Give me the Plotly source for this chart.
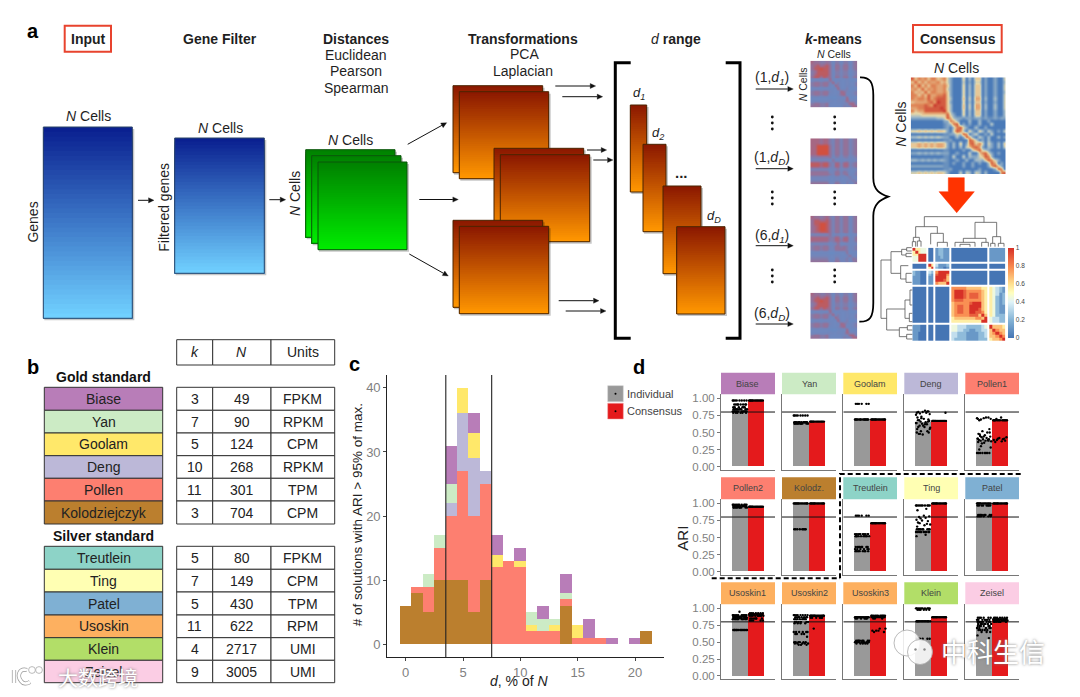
import math
import plotly.graph_objects as go

W, H = 1080, 697
FONT = "Liberation Sans"
INK = "#1f1f1f"

# ---------- panel c data (stacked counts per d bin) ----------
d_bins = list(range(22))
hist_kolodz = [6, 8, 5, 10, 10, 10, 5, 10, 0, 0, 0, 0, 0, 0, 6, 0, 0, 0, 0, 0, 0, 2]
hist_pollen = [0, 1, 4, 5, 10, 17, 15, 15, 12, 13, 12, 2, 2, 2, 1, 1, 1, 1, 0, 0, 0, 0]
hist_deng = [0, 0, 0, 0, 2, 9, 9, 2, 0, 0, 0, 0, 0, 0, 0, 0, 0, 0, 0, 0, 0, 0]
hist_goolam = [0, 0, 0, 0, 0, 4, 4, 0, 2, 0, 1, 1, 0, 1, 0, 2, 0, 0, 0, 0, 0, 0]
hist_yan = [0, 0, 2, 2, 3, 0, 0, 0, 0, 0, 0, 2, 2, 1, 1, 0, 0, 0, 0, 0, 0, 0]
hist_biase = [0, 0, 0, 0, 6, 0, 3, 0, 3, 0, 2, 0, 2, 0, 3, 0, 3, 0, 1, 0, 1, 0]

# ---------- panel b data ----------
gold_names = ["Biase", "Yan", "Goolam", "Deng", "Pollen", "Kolodziejczyk"]
gold_k = ["3", "7", "5", "10", "11", "3"]
gold_n = ["49", "90", "124", "268", "301", "704"]
gold_units = ["FPKM", "RPKM", "CPM", "RPKM", "TPM", "CPM"]
gold_colors = ["#b87db8", "#ccebc5", "#ffe86a", "#bcb8d8", "#fd7f70", "#bb7f2e"]
silver_names = ["Treutlein", "Ting", "Patel", "Usoskin", "Klein", "Zeisel"]
silver_k = ["5", "7", "5", "11", "4", "9"]
silver_n = ["80", "149", "430", "622", "2717", "3005"]
silver_units = ["FPKM", "CPM", "TPM", "RPM", "UMI", "UMI"]
silver_colors = ["#8dd3c7", "#ffffb3", "#7fb0d3", "#fdb060", "#b2de68", "#fbcde4"]

# ---------- panel d data ----------
facet_names = ["Biase", "Yan", "Goolam", "Deng", "Pollen1",
               "Pollen2", "Kolodz.", "Treutlein", "Ting", "Patel",
               "Usoskin1", "Usoskin2", "Usoskin3", "Klein", "Zeisel"]
facet_colors = ["#b87db8", "#ccebc5", "#ffe86a", "#bcb8d8", "#fd7f70",
                "#fd7f70", "#bb7f2e", "#8dd3c7", "#ffffb3", "#7fb0d3",
                "#fdb060", "#fdb060", "#fdb060", "#b2de68", "#fbcde4"]
individual_ari = [0.82, 0.65, 0.69, 0.65, 0.38, 0.95, 1.00, 0.52, 0.60, 0.98, 0.87, 0.80, 0.87, 0.81, 0.72]
consensus_ari = [0.97, 0.66, 0.69, 0.67, 0.68, 0.95, 1.00, 0.71, 1.00, 1.00, 0.92, 0.89, 0.88, 0.87, 0.83]

dots_biase_i = [.97]*8 + [.91]*8 + [.87]*6 + [.84]*10 + [.81]*10 + [.79]*6
dots_biase_c = [.97]*14
dots_yan_i = [.75]*8 + [.65]*14 + [.63]*10
dots_yan_c = [.66]*14
dots_goolam_i = [.92]*6 + [.69]*16
dots_goolam_c = [.69]*16
dots_deng_i = [.80, .79, .81, .78, .77, .80, .82, .76, .81, .73, .79, .72, .70, .68, .67, .66, .65, .64, .66, .63,
               .68, .62, .60, .58, .57, .55, .60, .52, .50, .48, .47, .50, .52, .48, .55, .58, .62, .64, .69, .71]
dots_deng_c = [.67]*14 + [.79]
dots_pollen1_i = [.71, .70, .72, .69, .70, .68, .72, .71, .55, .52, .50, .48, .46, .45, .44, .43, .42, .41, .40, .40,
                  .39, .39, .38, .38, .37, .36, .35, .34, .50, .47, .44, .41, .38, .30, .28, .25, .20, .20, .20, .20,
                  .20, .20, .20, .20]
dots_pollen1_c = [.68]*12 + [.72, .70, .43, .41, .40, .39, .38, .42, .36, .41, .39, .37]
dots_pollen2_i = [.98]*10 + [.96]*12 + [.94]*10
dots_pollen2_c = [.95]*14
dots_kolodz_i = [1.0]*16 + [.62]*8
dots_kolodz_c = [1.0]*16
dots_treutlein_i = [.82]*6 + [.55]*10 + [.52]*10 + [.36]*8 + [.33]*6 + [.30]*8
dots_treutlein_c = [.71]*16
dots_ting_i = [.97]*10 + [.92, .90, .82, .80, .81, .78, .79, .76, .74, .75, .72, .70, .71, .68, .69, .66] + [.62]*10 + [.58]*10 + [.54, .52]
dots_ting_c = [1.0]*16
dots_patel_i = [1.0]*14 + [.97]*8 + [.83]*8 + [.81]*6
dots_patel_c = [1.0]*16
dots_usoskin1_i = [.95] + [.90]*10 + [.88]*12 + [.86]*10 + [.84]*8 + [.68]*14
dots_usoskin1_c = [.93]*7 + [.91]*9 + [.89]*9 + [.85]*6 + [.82]*5
dots_usoskin2_i = [.90]*8 + [.87]*8 + [.84]*8 + [.80]*6 + [.78]*4 + [.65]*6 + [.62]*4 + [.58] + [.50]*6 + [.48]*5 + [.46]*3
dots_usoskin2_c = [.89]*16 + [.86]*6 + [.70]
dots_usoskin3_i = [.87]*16 + [.85]*6 + [.52]*8 + [.50]*8 + [.48]*5
dots_usoskin3_c = [.89]*11 + [.87]*9 + [.85]*3 + [.70]*2 + [.67]*3 + [.65]*2
dots_klein_i = [1.0]*10 + [.98]*6 + [.81]*14 + [.55]*6
dots_klein_c = [.87]*16
dots_zeisel_i = [.86]*6 + [.83]*7 + [.80]*8 + [.77]*7 + [.74]*6 + [.71]*5 + [.68]*5 + [.65]*3 + [.60, .56]
dots_zeisel_c = [.86]*7 + [.84]*9 + [.82]*9 + [.80]*7

facet_dots = [
    (dots_biase_i, dots_biase_c), (dots_yan_i, dots_yan_c), (dots_goolam_i, dots_goolam_c),
    (dots_deng_i, dots_deng_c), (dots_pollen1_i, dots_pollen1_c), (dots_pollen2_i, dots_pollen2_c),
    (dots_kolodz_i, dots_kolodz_c), (dots_treutlein_i, dots_treutlein_c), (dots_ting_i, dots_ting_c),
    (dots_patel_i, dots_patel_c), (dots_usoskin1_i, dots_usoskin1_c), (dots_usoskin2_i, dots_usoskin2_c),
    (dots_usoskin3_i, dots_usoskin3_c), (dots_klein_i, dots_klein_c), (dots_zeisel_i, dots_zeisel_c),
]
jitter = [0.98, 0.62, 1.27, 0.81, 1.41, 0.71, 1.12, 0.57, 1.33, 0.90, 1.20, 0.66, 1.05, 0.76, 1.38,
          0.85, 1.16, 0.60, 1.30, 0.94, 0.69, 1.24, 0.79, 1.09, 1.44, 0.64, 1.01, 0.87, 1.35, 0.74]

# ---------- panel a heatmap data (one digit per cell, 0-9) ----------
kmeans_1 = ["7665565355355356", "6786786366466356", "6889886366466356", "5688886355455245",
            "5788886355455245", "6886876366466356", "3333337333334223", "5665664735334335",
            "5665663375334335", "3333333337335223", "5665664333764345", "5665663334673345",
            "3333332223337223", "3333334334347444", "5665563333344774", "6665563333354477"]
kmeans_2 = ["7776775466466456", "7776775466466456", "7799996466466456", "7799996466466456",
            "7799996466466456", "7799996466466456", "5555556355355345", "4444443633334334",
            "8887885477477456", "8887885477477456", "4444443445344334", "6666664466465335",
            "6666665466456345", "4444443344334534", "4444443344334454", "6666664466435346"]
kmeans_3 = ["7665675466466356", "6887786466466356", "6889986466466356", "6789986466466356",
            "6789986466466356", "6778886466466356", "4444446344334234", "7777775577477346",
            "7777775577577346", "4444443446334334", "5665664466565345", "5665664466665345",
            "3333332233336233", "4444443344334634", "5555553355345365", "6666664466445356"]
consensus_cells = [
    "857675775674200050305502002004", "585757667564200040204402002003", "758575776675200050305502002004",
    "675857676674200050305502002004", "756585776675200050305502002003", "775758667785200050305502002004",
    "767768678885300060406603003004", "566667869885200050305502002004", "777787698885300060406603003004",
    "667788888985300060406603003004", "756688888895300050305502002003", "444555555558420050305502002003",
    "222222223348632212212212112122", "000000000022763000300300200000", "000000000012378020200300040000",
    "000000000012037842003002000000", "556565656652048730520530420204", "000000000011224387024002040000",
    "334343434322003028620420300302", "000000000011200000874020300000", "556565656652030502785740420305",
    "556565656652030304578620320304", "000000000011000020046843200000", "223232323222002000400578420200",
    "000000000011040040322458730000", "332323232321002003003325874200", "000000000011020020020200386020",
    "222222222211000020020000268520", "000000000011200000000200002870", "445454545542000404304303000078"]
clustered_cells = [
    "95544.00.12211.000000000000.11111", "59544.00.12211.000000000000.11111", "55999.00.12211.000000000000.11111",
    "44999.00.11211.000000000000.11111", "44999.00.11111.000000000000.11111", ".................................",
    "00000.95.31112.000000000000.00000", "00000.59.21101.000000000000.00000", ".................................",
    "21100.32.79999.000000000000.00000", "21100.21.89997.000000000000.00000", "11100.11.99996.000000000000.00000",
    "11100.11.99986.000000000000.00000", "11100.11.76669.000000000000.00000", ".................................",
    "00000.00.00000.777776666655.54321", "00000.00.00000.799987777765.54321", "00000.00.00000.799987888765.54312",
    "00000.00.00000.799987888765.54212", "00000.00.00000.788877777765.54212", "00000.00.00000.677777899965.54212",
    "00000.00.00000.678877999965.54211", "00000.00.00000.678877999865.54211", "00000.00.00000.678877998875.54211",
    "00000.00.00000.677777888696.54222", "00000.00.00000.566666667769.43322", "00000.00.00000.555555555599.43322",
    ".................................",
    "11100.00.00000.443332222234.96665", "11100.00.00000.443322112233.69766", "11000.00.00000.332221111223.67976",
    "11000.00.00000.332221111223.66797", "11000.00.00000.322221111222.56679"]
# widths of the 33 cells of the clustered map: blocks of 5, 2, 5, 12, 5 cells, with 4 narrow white gaps
clustered_widths = [2.8]*5 + [2.3] + [2.35]*2 + [2.0] + [2.74]*5 + [2.3] + [3.0]*12 + [2.3] + [3.2]*5

colorbar_ticks = [0, 0.2, 0.4, 0.6, 0.8, 1]
colorbar_text = ["0", "0.2", "0.4", "0.6", "0.8", "1"]

# dendrogram brackets, in zoom units of the panel: (low, high, stem, end_low, end_high)
top_tree = [(133, 312, 35, 65, 52), (107, 172, 65, 97, 85), (152, 190, 85, 118, 112), (100, 118, 97, 110, 108),
            (97, 107, 110, 125, 125), (112, 123, 108, 125, 125), (172, 202, 112, 125, 125), (285, 350, 52, 100, 95),
            (250, 318, 100, 112, 112), (225, 285, 112, 125, 125), (240, 270, 118, 125, 125), (305, 325, 112, 125, 125),
            (338, 362, 95, 115, 115), (332, 345, 115, 125, 125), (355, 372, 115, 125, 125)]
left_tree = [(165, 340, 3, 33, 20), (140, 205, 33, 65, 62), (133, 150, 65, 80, 78), (128, 138, 80, 95, 95),
             (145, 155, 78, 95, 95), (182, 222, 62, 85, 78), (205, 232, 78, 95, 95), (312, 375, 20, 75, 58),
             (285, 340, 75, 90, 88), (255, 300, 90, 97, 97), (325, 350, 88, 97, 97), (368, 395, 58, 82, 80),
             (362, 375, 82, 97, 97), (388, 402, 80, 97, 97)]

# ---------- helpers ----------
def px(x):
    return x / W

def py(y):
    return 1 - y / H

shapes, annotations = [], []

def rect(x0, y0, x1, y1, fill=None, line=None, lw=1.0):
    shapes.append(dict(type="rect", xref="paper", yref="paper", x0=px(x0), x1=px(x1), y0=py(y0), y1=py(y1),
                       fillcolor=fill or "rgba(0,0,0,0)",
                       line=dict(color=line or "rgba(0,0,0,0)", width=lw if line else 0)))

def seg(x0, y0, x1, y1, color="#000", w=1.0, dash=None):
    shapes.append(dict(type="line", xref="paper", yref="paper", x0=px(x0), x1=px(x1), y0=py(y0), y1=py(y1),
                       line=dict(color=color, width=w, dash=dash or "solid")))

def path(points, color="#000", w=1.0, fill=None, close=False, dash=None):
    s = "M" + " L".join(f"{px(x):.5f},{py(y):.5f}" for x, y in points)
    if close:
        s += " Z"
    shapes.append(dict(type="path", xref="paper", yref="paper", path=s, fillcolor=fill or "rgba(0,0,0,0)",
                       line=dict(color=color, width=w, dash=dash or "solid")))

def circle(cx, cy, r, fill, line=None, lw=0.0):
    shapes.append(dict(type="circle", xref="paper", yref="paper", x0=px(cx - r), x1=px(cx + r), y0=py(cy + r), y1=py(cy - r),
                       fillcolor=fill, line=dict(color=line or "rgba(0,0,0,0)", width=lw)))

def curve(d, color, w):
    """d: list of (cmd, [(x, y), ...]) in figure pixels."""
    s = " ".join(cmd + " ".join(f"{px(x):.5f},{py(y):.5f}" for x, y in pts) for cmd, pts in d)
    shapes.append(dict(type="path", xref="paper", yref="paper", path=s, line=dict(color=color, width=w)))

def text(x, y, s, size=14, color=INK, angle=0, anchor="center", family=FONT, shadow=None):
    font = dict(family=family, size=size, color=color)
    if shadow:
        font["shadow"] = shadow
    annotations.append(dict(x=px(x), y=py(y), xref="paper", yref="paper", text=s, showarrow=False, font=font,
                            textangle=angle, xanchor=anchor, yanchor="middle", borderpad=0, borderwidth=0))

def arrow(x0, y0, x1, y1, w=1.0, head=5.5, half=2.6):
    length = math.hypot(x1 - x0, y1 - y0)
    ux, uy = (x1 - x0) / length, (y1 - y0) / length
    bx, by = x1 - ux * head, y1 - uy * head
    seg(x0, y0, bx, by, "#111", w)
    path([(x1, y1), (bx - uy * half, by + ux * half), (bx + uy * half, by - ux * half)], "#111", 0.3, fill="#111", close=True)

def gradient_box(x0, y0, x1, y1, top, bottom, border, steps=40):
    rect(x0 + 1, y0 + 2, x1 + 2, y1 + 2, fill="rgba(0,0,0,0.22)")
    for i in range(steps):
        t = i / (steps - 1)
        c = tuple(round(a + (b - a) * t) for a, b in zip(top, bottom))
        rect(x0, y0 + (y1 - y0) * i / steps, x1, y1, fill=f"rgb({c[0]},{c[1]},{c[2]})")
    rect(x0, y0, x1, y1, line=border, lw=1)

def cells(rows):
    return [[None if c == "." else int(c) / 9 for c in r] for r in rows]

BLUE = ((10, 32, 144), (112, 208, 255), "#2b4468")
GREEN = ((0, 130, 0), (0, 235, 0), "#0b550b")
ORANGE = ((140, 25, 0), (255, 150, 0), "#4a2400")
RDYLBU = [[0, "#4575b4"], [0.2, "#85b4d6"], [0.4, "#e0f3f8"], [0.5, "#ffffbf"], [0.6, "#fee090"],
          [0.78, "#f98e52"], [1, "#d73027"]]
CONSENSUS = [[0, "#4a7ab8"], [0.3, "#9db7c8"], [0.5, "#e8d8a8"], [0.75, "#e08a5a"], [1, "#c8342c"]]
KMEANS = [[0, "#5f8fc8"], [0.45, "#7485ba"], [0.75, "#a06a8c"], [1, "#d2503f"]]

fig = go.Figure()
layout_axes = {}
axis_no = [1]

def new_axes(x0, y0, x1, y1, xa, ya):
    n = axis_no[0]
    axis_no[0] += 1
    suffix = "" if n == 1 else str(n)
    layout_axes["xaxis" + suffix] = dict(domain=[px(x0), px(x1)], anchor="y" + suffix, **xa)
    layout_axes["yaxis" + suffix] = dict(domain=[py(y1), py(y0)], anchor="x" + suffix, **ya)
    return "x" + suffix, "y" + suffix

# ---------- panel a ----------
text(32.7, 31, "<b>a</b>", 20, "#000")
rect(64.7, 25.7, 111, 51.7, line="#e8432e", lw=2)
text(88, 39, "<b>Input</b>", 14)
text(220, 39, "<b>Gene Filter</b>", 14)
text(356, 39, "<b>Distances</b>", 14)
text(356, 55, "Euclidean", 14)
text(356, 71.5, "Pearson", 14)
text(356, 87.7, "Spearman", 14)
text(523.3, 39, "<b>Transformations</b>", 14)
text(524, 54.3, "PCA", 14)
text(523.3, 70.7, "Laplacian", 14)
text(676, 39, "<i>d</i> <b>range</b>", 14)
text(833.3, 39.3, "<b><i>k</i>-means</b>", 14)
rect(913, 25, 1001.7, 52.3, line="#e8432e", lw=2)
text(957.7, 39, "<b>Consensus</b>", 14)

gradient_box(43.3, 127, 132.3, 318.3, *BLUE)
text(88.3, 116, "<i>N</i> Cells", 14)
text(33.3, 222.3, "Genes", 14, angle=-90)
arrow(138, 200.3, 154, 200.3)
gradient_box(174.7, 138, 264.3, 273.3, *BLUE)
text(220, 128.3, "<i>N</i> Cells", 14)
text(164, 207.7, "Filtered genes", 14, angle=-90)
arrow(269.3, 199.7, 285.7, 199.7)
text(295.7, 193.3, "<i>N</i> Cells", 14, angle=-90)
gradient_box(305.7, 149.7, 395, 237.3, *GREEN)
gradient_box(311.7, 155.7, 401, 243.3, *GREEN)
gradient_box(318, 162, 407, 249.7, *GREEN)
text(350, 140.3, "<i>N</i> Cells", 14)
arrow(407.7, 144.3, 446.7, 122.7)
arrow(419.3, 199.5, 458.3, 199.5)
arrow(409.3, 254, 448.3, 276)

for box in [(453, 85.7, 542.7, 172.7), (459.3, 91.7, 548.7, 178.7), (494, 148.3, 583.7, 235.3),
            (500.3, 154.7, 589.7, 241.7), (453, 220.3, 542.7, 307.3), (459.3, 226.3, 548.7, 313.7)]:
    gradient_box(*box, *ORANGE)
for a in [(555.3, 86, 595.7, 86), (562.3, 96.7, 602.7, 96.7), (587, 150, 606.7, 150), (593.3, 160, 613, 160),
          (558.7, 300.7, 599, 300.7), (565.7, 311, 606, 311)]:
    arrow(*a)
path([(630.7, 62.7), (615.3, 62.7), (615.3, 338.3), (630.7, 338.3)], "#000", 3)
path([(725.7, 62.7), (740, 62.7), (740, 338.3), (725.7, 338.3)], "#000", 3)
for box in [(630.3, 105, 646.7, 192), (643, 144.3, 666, 231.7), (663, 186, 701, 273.7), (676.7, 226.7, 725, 314)]:
    gradient_box(*box, *ORANGE)
text(639.3, 93.3, "<i>d<sub>1</sub></i>", 13)
text(658, 133.3, "<i>d<sub>2</sub></i>", 13)
text(681.7, 172, "<b>...</b>", 15)
text(714.3, 216.7, "<i>d<sub>D</sub></i>", 13)

text(834, 54.3, "<i>N</i> Cells", 10.5)
text(803.3, 84, "<i>N</i> Cells", 10.5, angle=-90)
kmeans_panels = [(60.7, 107.3, kmeans_1), (138.3, 184.3, kmeans_2), (215.7, 262.3, kmeans_3), (292.7, 339, kmeans_1)]
arrow_labels = ["(1,<i>d<sub>1</sub></i>)", "(1,<i>d<sub>D</sub></i>)", "(6,<i>d<sub>1</sub></i>)", "(6,<i>d<sub>D</sub></i>)"]
for (y0, y1, _), lab, ly, ay in zip(kmeans_panels, arrow_labels, [78.3, 157.7, 235.7, 314], [89, 168.7, 245.7, 324]):
    text(772.3, ly, lab, 14)
    arrow(755.7, ay, 793.3, ay)
for dy in [123, 198, 276]:
    for dx in [772.3, 834.7]:
        for off in [-6, 0, 6]:
            circle(dx, dy + off, 1.4, "#111")
curve([("M", [(860, 77.3)]), ("C", [(870, 77), (873.3, 82), (873.3, 95)]), ("L", [(873.3, 178)]),
       ("C", [(873.3, 190), (880, 194), (888.3, 196.7)]), ("C", [(880, 200), (873.3, 204), (873.3, 216)]),
       ("L", [(873.3, 303)]), ("C", [(873.3, 317), (870, 322), (859.3, 321.7)])], "#000", 1.8)

text(956.7, 68.3, "<i>N</i> Cells", 14)
text(900.7, 124, "<i>N</i> Cells", 14, angle=-90)
path([(948.3, 177.7), (964.3, 177.7), (964.3, 191.7), (974.3, 191.7), (956.7, 212.7), (939, 191.7), (948.3, 191.7)],
     "#ff3300", 0.5, fill="#ff3300", close=True)

hidden = dict(visible=False, showgrid=False, zeroline=False, fixedrange=True)
hidden_rev = dict(visible=False, showgrid=False, zeroline=False, fixedrange=True, autorange="reversed")

def heat(rows, x0, y0, x1, y1, scale, smooth=None, colorbar=None, edges=None):
    xa, ya = new_axes(x0, y0, x1, y1, hidden, hidden_rev)
    kw = dict(x=edges, y=edges) if edges else {}
    fig.add_trace(go.Heatmap(z=cells(rows), xaxis=xa, yaxis=ya, colorscale=scale, zmin=0, zmax=1,
                             zsmooth=smooth if smooth else False,
                             showscale=colorbar is not None, colorbar=colorbar, hoverinfo="skip", **kw))

# ---------- panel c ----------
tick_font = dict(family=FONT, size=13, color="#7f7f7f")
xa_c, ya_c = new_axes(387.3, 375, 664.3, 657.3,
                      dict(range=[-1.6, 22.55], tickvals=[0, 5, 10, 15, 20], showgrid=False, zeroline=False,
                           showline=True, linecolor="#222", linewidth=1.2, ticks="outside", ticklen=3, tickcolor="#444",
                           tickfont=tick_font, fixedrange=True),
                      dict(range=[-2.03, 42], tickvals=[0, 10, 20, 30, 40], showgrid=False, zeroline=False,
                           showline=True, linecolor="#222", linewidth=1.2, ticks="outside", ticklen=3, tickcolor="#444",
                           tickfont=tick_font, fixedrange=True))
for series, color in [(hist_kolodz, "#bb7f2e"), (hist_pollen, "#fd7f70"), (hist_deng, "#bcb8d8"),
                      (hist_goolam, "#ffe86a"), (hist_yan, "#ccebc5"), (hist_biase, "#b87db8")]:
    fig.add_trace(go.Bar(x=d_bins, y=series, width=1, marker=dict(color=color, line=dict(width=0)),
                         xaxis=xa_c, yaxis=ya_c, hoverinfo="skip", showlegend=False))
for v in [3.5, 7.5]:
    fig.add_trace(go.Scatter(x=[v, v], y=[-2.03, 42], mode="lines", line=dict(color="#222", width=1.1),
                             xaxis=xa_c, yaxis=ya_c, hoverinfo="skip", showlegend=False))
text(354, 364, "<b>c</b>", 20, "#000")
text(357.3, 515, "# of solutions with ARI > 95% of max.", 13.5, "#222", angle=-90)
text(519.3, 680.5, "<i>d</i>, % of <i>N</i>", 14, "#222")

# ---------- panel d ----------
text(639.3, 366.7, "<b>d</b>", 20, "#000")
rect(607.7, 385.7, 623.3, 401.7, fill="#999999", line="#d0d0d0", lw=0.5)
rect(607.7, 403.3, 623.3, 419, fill="#e41a1c", line="#f0a0a0", lw=0.5)
for ly in [393.7, 411.2]:
    circle(615.5, ly, 1, "#000")
text(626.7, 393.7, "Individual", 11, "#444", anchor="left")
text(626.7, 411.3, "Consensus", 11, "#444", anchor="left")
text(681.7, 538, "ARI", 15, "#222", angle=-90)

col_x = [(721, 775), (782, 836), (843.3, 897), (904.3, 958), (965.3, 1019)]
row_y = [(372.7, 394.3, 470), (477.3, 499.3, 575), (582.3, 604.3, 679.3)]
for i, name in enumerate(facet_names):
    c, r = i % 5, i // 5
    x0, x1 = col_x[c]
    st0, y0, y1 = row_y[r]
    rect(x0, st0, x1, y0, fill=facet_colors[i])
    text((x0 + x1) / 2, (st0 + y0) / 2, name, 9, "#444")
    ya_opts = dict(range=[-0.05, 1.06], showgrid=False, zeroline=False, showline=True, linecolor="#777", linewidth=1,
                   fixedrange=True)
    if c == 0:
        ya_opts.update(tickvals=[0, 0.25, 0.5, 0.75, 1], ticktext=["0.00", "0.25", "0.50", "0.75", "1.00"],
                       ticks="outside", ticklen=3, tickcolor="#777", tickfont=dict(family=FONT, size=11.5, color="#7f7f7f"))
    else:
        ya_opts.update(showticklabels=False, ticks="")
    xa, ya = new_axes(x0, y0, x1, y1,
                      dict(range=[-0.15, 3.15], showgrid=False, zeroline=False, showline=True, linecolor="#777",
                           linewidth=1, showticklabels=False, ticks="", fixedrange=True),
                      ya_opts)
    fig.add_trace(go.Bar(x=[1, 2], y=[individual_ari[i], consensus_ari[i]], width=1,
                         marker=dict(color=["#999999", "#e41a1c"], line=dict(width=0)),
                         xaxis=xa, yaxis=ya, hoverinfo="skip", showlegend=False))
    fig.add_trace(go.Scatter(x=[-0.15, 3.15], y=[0.8, 0.8], mode="lines", line=dict(color="#111", width=1),
                             xaxis=xa, yaxis=ya, hoverinfo="skip", showlegend=False))
    ind, con = facet_dots[i]
    xs = [jitter[k % len(jitter)] for k in range(len(ind))] + [jitter[k % len(jitter)] + 1 for k in range(len(con))]
    fig.add_trace(go.Scatter(x=xs, y=list(ind) + list(con), mode="markers", marker=dict(color="#000", size=2.4, line=dict(width=0)),
                             xaxis=xa, yaxis=ya, hoverinfo="skip", showlegend=False, cliponaxis=False))
path([(840, 578.3), (840, 474), (1023, 474)], "#000", 2, dash="5px,3px")
seg(711.7, 578.3, 840, 578.3, "#000", 2, "5px,3px")

# ---------- heatmaps of panel a ----------
for y0, y1, rows in kmeans_panels:
    heat(rows, 810.3, y0, 857.3, y1, KMEANS, smooth="best")
heat(consensus_cells, 910.7, 77.3, 1005.7, 174, CONSENSUS, smooth="best")
cluster_edges = [0.0]
for w in clustered_widths:
    cluster_edges.append(cluster_edges[-1] + w)
heat(clustered_cells, 912.3, 247.7, 1005.3, 341, RDYLBU, edges=cluster_edges,
     colorbar=dict(x=px(1008.3), xanchor="left", y=py(292.5), yanchor="middle", len=90 / H, lenmode="fraction",
                   thickness=6, thicknessmode="pixels", tickvals=colorbar_ticks, ticktext=colorbar_text,
                   tickfont=dict(family=FONT, size=6.5, color="#444"), outlinewidth=0, ticks="", xpad=0, ypad=0))

def dz(x, y):
    return 880 + x / 3, 205 + y / 3

for lo, hi, stem, end_lo, end_hi in top_tree:
    path([dz(lo, end_lo), dz(lo, stem), dz(hi, stem), dz(hi, end_hi)], "#555", 0.8)
for lo, hi, stem, end_lo, end_hi in left_tree:
    path([dz(end_lo, lo), dz(stem, lo), dz(stem, hi), dz(end_hi, hi)], "#555", 0.8)

# ---------- panel b ----------
text(32.7, 366.7, "<b>b</b>", 20, "#000")
text(103.3, 376.7, "<b>Gold standard</b>", 14, "#111")
text(103.3, 536, "<b>Silver standard</b>", 14, "#111")
table_x = [176.7, 212.7, 271, 334.7]

def table_row(y0, y1, values):
    for j, v in enumerate(values):
        rect(table_x[j], y0, table_x[j + 1], y1, fill="#ffffff", line="#333", lw=1)
        text((table_x[j] + table_x[j + 1]) / 2, (y0 + y1) / 2, v, 14, "#222")

table_row(339.7, 365, ["<i>k</i>", "<i>N</i>", "Units"])
gold_y = [387.3, 410.3, 433, 455.7, 478.3, 501, 524]
silver_y = [546.3, 569.3, 592, 615, 637.7, 660.3, 682.7]
for ys, names, colors, ks, ns, units in [(gold_y, gold_names, gold_colors, gold_k, gold_n, gold_units),
                                         (silver_y, silver_names, silver_colors, silver_k, silver_n, silver_units)]:
    for j, name in enumerate(names):
        rect(44.3, ys[j], 162.7, ys[j + 1], fill=colors[j], line="#333", lw=1)
        text(103.5, (ys[j] + ys[j + 1]) / 2, name, 14, "#222")
        table_row(ys[j], ys[j + 1], [ks[j], ns[j], units[j]])

# ---------- watermarks ----------
halo = "0 0 3px #777"
text(98, 677, "大数跨境", 20, "#ffffff", family="Noto Sans CJK SC", shadow=halo)
for col, wd in [("#999999", 4.2), ("#ffffff", 2.8)]:
    curve([("M", [(14, 670)]), ("L", [(14, 683)])], col, wd)
    curve([("M", [(27, 670)]), ("C", [(19, 668), (17, 676), (21, 681)]), ("C", [(23, 684), (27, 684), (30, 682)])], col, wd)
for cx in [32, 39]:
    circle(cx, 670, 3.4, "rgba(255,255,255,0.9)", "#aaa", 0.8)
text(993, 650, "中科生信", 26, "#ffffff", family="Noto Sans CJK SC", shadow=halo)
for cx, cy, r in [(907, 643, 13), (920, 652, 12.5)]:
    circle(cx, cy, r, "rgba(255,255,255,0.85)", "#aaa", 0.8)
for cx, cy in [(915.5, 649.5), (924.5, 649.5)]:
    circle(cx, cy, 1.2, "#888")

fig.update_layout(width=W, height=H, margin=dict(l=0, r=0, t=0, b=0, pad=0, autoexpand=False),
                  paper_bgcolor="white", plot_bgcolor="rgba(0,0,0,0)",
                  barmode="stack", bargap=0, showlegend=False, shapes=shapes, annotations=annotations,
                  font=dict(family=FONT), **layout_axes)
fig.write_html("out.html", config=dict(displayModeBar=False, responsive=False),
               post_script="document.body.style.margin='0';document.documentElement.style.overflow='hidden';")
